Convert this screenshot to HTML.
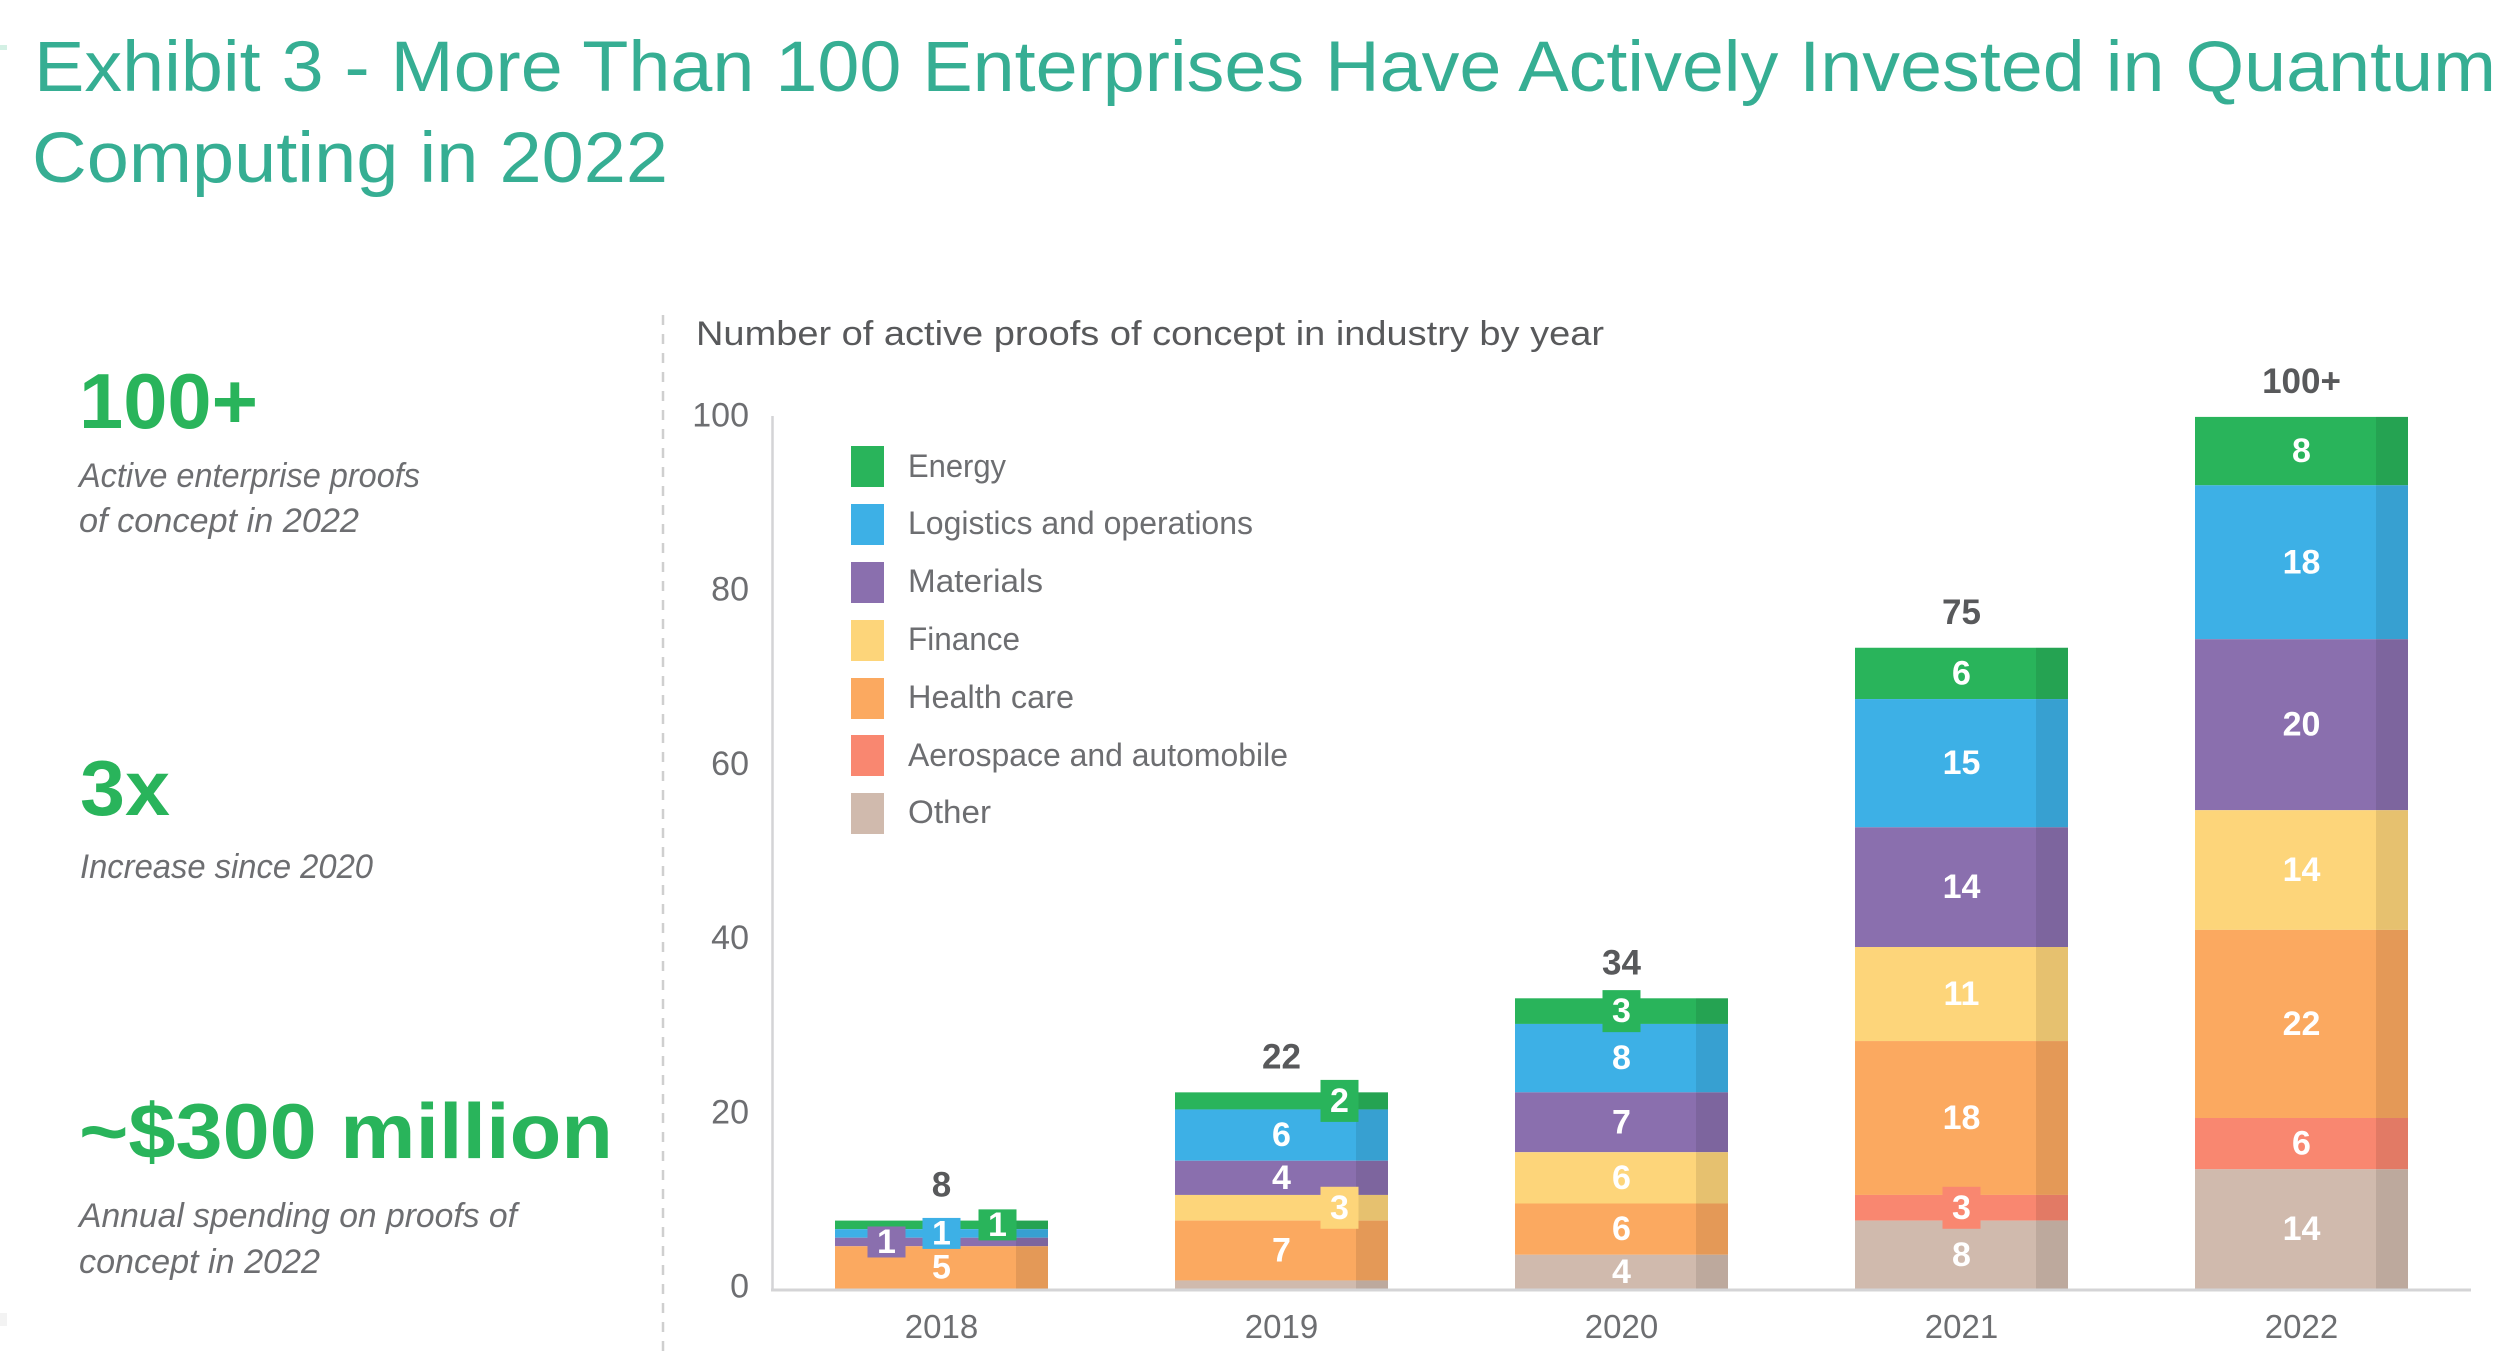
<!DOCTYPE html>
<html lang="en">
<head>
<meta charset="utf-8">
<title>Exhibit 3 - Quantum Computing Proofs of Concept</title>
<style>
html,body{margin:0;padding:0;background:#fff;}
svg{display:block;font-family:"Liberation Sans",sans-serif;}
.leg{font-size:32px;fill:#6d6e71;}
.big{font-size:78px;font-weight:700;fill:#29b45b;}
.note{font-size:34px;font-style:italic;fill:#6d6e71;}
.ttl{font-size:71px;fill:#36ae93;}
</style>
</head>
<body>
<svg id="chart" xmlns="http://www.w3.org/2000/svg" width="2510" height="1372" viewBox="0 0 2510 1372">
  <rect width="2510" height="1372" fill="#fff"/>
  <rect x="0" y="45" width="7" height="5" fill="#d3f0e4"/>
  <rect x="0" y="1313" width="7" height="13" fill="#f3f3f3"/>

  <text class="ttl" x="34" y="91" textLength="2462" lengthAdjust="spacingAndGlyphs">Exhibit 3 - More Than 100 Enterprises Have Actively Invested in Quantum</text>
  <text class="ttl" x="32" y="182" textLength="636" lengthAdjust="spacingAndGlyphs">Computing in 2022</text>

  <text class="big" x="79" y="428" textLength="179" lengthAdjust="spacingAndGlyphs">100+</text>
  <text class="note" x="79" y="487" textLength="341" lengthAdjust="spacingAndGlyphs">Active enterprise proofs</text>
  <text class="note" x="79" y="532" textLength="280" lengthAdjust="spacingAndGlyphs">of concept in 2022</text>

  <text class="big" x="80" y="815" textLength="90" lengthAdjust="spacingAndGlyphs">3x</text>
  <text class="note" x="80" y="878" textLength="293" lengthAdjust="spacingAndGlyphs">Increase since 2020</text>

  <text class="big" x="79" y="1158" textLength="534" lengthAdjust="spacingAndGlyphs">~$300 million</text>
  <text class="note" x="79" y="1227" textLength="438" lengthAdjust="spacingAndGlyphs">Annual spending on proofs of</text>
  <text class="note" x="79" y="1273" textLength="241" lengthAdjust="spacingAndGlyphs">concept in 2022</text>

  <line x1="663" y1="315" x2="663" y2="1360" stroke="#cfcfcf" stroke-width="2.5" stroke-dasharray="10 9"/>

  <text x="696" y="345" font-size="34" fill="#58595b" textLength="908" lengthAdjust="spacingAndGlyphs">Number of active proofs of concept in industry by year</text>

  <line x1="772.5" y1="416" x2="772.5" y2="1290" stroke="#d4d4d6" stroke-width="2.5"/>

  <g id="bars"></g>
  <g id="tags"></g>

  <line x1="771" y1="1290" x2="2471" y2="1290" stroke="#d4d4d6" stroke-width="3"/>

  <g id="yticks"></g>
  <g id="xticks"></g>
  <g id="totals"></g>

  <g>
    <g><rect x="851" y="446" width="33" height="41" fill="#29b45b"/><text class="leg" x="908" y="477" textLength="98" lengthAdjust="spacingAndGlyphs">Energy</text></g>
    <g><rect x="851" y="504" width="33" height="41" fill="#3db0e6"/><text class="leg" x="908" y="534" textLength="345" lengthAdjust="spacingAndGlyphs">Logistics and operations</text></g>
    <g><rect x="851" y="562" width="33" height="41" fill="#8a6fae"/><text class="leg" x="908" y="592" textLength="135" lengthAdjust="spacingAndGlyphs">Materials</text></g>
    <g><rect x="851" y="620" width="33" height="41" fill="#fdd57a"/><text class="leg" x="908" y="650" textLength="112" lengthAdjust="spacingAndGlyphs">Finance</text></g>
    <g><rect x="851" y="678" width="33" height="41" fill="#fba960"/><text class="leg" x="908" y="708" textLength="166" lengthAdjust="spacingAndGlyphs">Health care</text></g>
    <g><rect x="851" y="735" width="33" height="41" fill="#f98770"/><text class="leg" x="908" y="766" textLength="380" lengthAdjust="spacingAndGlyphs">Aerospace and automobile</text></g>
    <g><rect x="851" y="793" width="33" height="41" fill="#d0baad"/><text class="leg" x="908" y="823" textLength="83" lengthAdjust="spacingAndGlyphs">Other</text></g>
  </g>
</svg>

<script>
const years = ['2018', '2019', '2020', '2021', '2022'];
const totalLabels = ['8', '22', '34', '75', '100+'];
const yTickLabels = [0, 20, 40, 60, 80, 100];
// series values, listed top of stack first
const energy = [1, 2, 3, 6, 8];
const logistics = [1, 6, 8, 15, 18];
const materials = [1, 4, 7, 14, 20];
const finance = [0, 3, 6, 11, 14];
const healthCare = [5, 7, 6, 18, 22];
const aerospace = [0, 0, 0, 3, 6];
const other = [0, 1, 4, 8, 14];

const seriesKeys = ['energy', 'logistics', 'materials', 'finance', 'health-care', 'aerospace', 'other'];
const seriesValues = [energy, logistics, materials, finance, healthCare, aerospace, other];
const palette = ['#29b45b', '#3db0e6', '#8a6fae', '#fdd57a', '#fba960', '#f98770', '#d0baad'];

const NS = 'http://www.w3.org/2000/svg';
const barsG = document.getElementById('bars');
const tagsG = document.getElementById('tags');
const totalsG = document.getElementById('totals');
const xTicksG = document.getElementById('xticks');
const yTicksG = document.getElementById('yticks');

// axis functions
const BASE_Y = 1289;
const UNIT = 8.55;
const BAR_W = 213;
const SHADE_W = 32;
function xCenter(i) { return 941.5 + i * 340; }
function yBar(v) { return BASE_Y - v * UNIT; }
function yTick(v) { return 1297.5 - v * 8.71; }

// horizontal nudges for the small call-out tags, keyed "yearIndex-seriesIndex"
const tagNudge = { '0-0': 56, '0-2': -55, '1-0': 58, '1-3': 58 };
// stack pieces drawn without a printed value
const silent = { '1-6': true };

function svgText(parent, str, x, y, size, weight, fill, anchor) {
  const t = document.createElementNS(NS, 'text');
  t.setAttribute('x', x);
  t.setAttribute('y', y);
  t.setAttribute('font-size', size);
  t.setAttribute('font-weight', weight);
  t.setAttribute('fill', fill);
  t.setAttribute('text-anchor', anchor);
  t.textContent = str;
  parent.appendChild(t);
  return t;
}
function svgRect(parent, x, y, w, h, fill, opacity) {
  const r = document.createElementNS(NS, 'rect');
  r.setAttribute('x', x);
  r.setAttribute('y', y);
  r.setAttribute('width', w);
  r.setAttribute('height', h);
  r.setAttribute('fill', fill);
  if (opacity) r.setAttribute('fill-opacity', opacity);
  parent.appendChild(r);
  return r;
}

years.forEach(function (year, i) {
  const cx = xCenter(i);
  const left = cx - BAR_W / 2;
  let stackTotal = 0;
  seriesValues.forEach(function (s) { stackTotal += s[i]; });

  let running = stackTotal;
  seriesValues.forEach(function (s, k) {
    const v = s[i];
    if (!v) return;
    const top = yBar(running);
    const h = v * UNIT;
    running -= v;

    const seg = svgRect(barsG, left, top, BAR_W, h, palette[k]);
    
    

    const shade = svgRect(barsG, left + BAR_W - SHADE_W, top, SHADE_W, h, '#000', 0.09);
    
    

    const key = i + '-' + k;
    if (silent[key]) return;
    const mid = top + h / 2;
    const small = v <= 3;
    const lx = cx + (tagNudge[key] || 0);
    if (small) {
      const tagH = v <= 1 ? 31 : 42;
      const tag = svgRect(tagsG, lx - 19, mid - tagH / 2, 38, tagH, palette[k]);
      
      
    }
    const label = svgText(tagsG, String(v), lx, mid + 11, 34, 700, '#fff', 'middle');
    
    
  });

  const total = svgText(totalsG, totalLabels[i], cx, yBar(stackTotal) - 24, 35, 700, '#58595b', 'middle');
  
  

  const xt = svgText(xTicksG, year, cx, 1338, 33, 400, '#6d6e71', 'middle');
  
  
});

yTickLabels.forEach(function (v) {
  const yt = svgText(yTicksG, String(v), 749, yTick(v), 34, 400, '#6d6e71', 'end');
  
  
});
</script>
</body>
</html>
